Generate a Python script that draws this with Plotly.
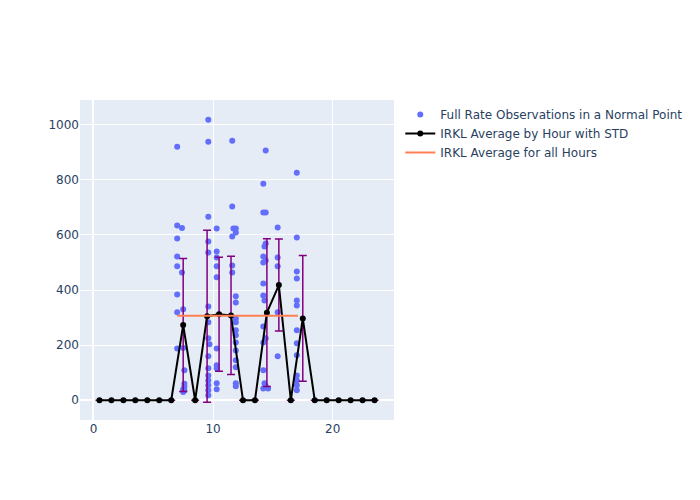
import plotly.graph_objects as go

# Scatter observations (hour, rate)
obs_x = [7.0, 7.0, 7.4, 7.0, 7.0, 7.0, 7.4, 7.0, 7.5, 7.0, 7.0, 7.5, 7.6, 7.6, 7.6, 7.5, 7.6, 7.5,
         9.6, 9.6, 9.6, 9.6, 9.6, 9.6, 9.6, 9.6, 9.6, 9.6, 9.6, 9.6, 9.6, 9.6, 9.6, 9.7,
         10.3, 10.3, 10.3, 10.3, 10.3, 10.3, 10.3, 10.3, 10.3, 10.3,
         11.6, 11.6, 11.7, 11.9, 11.9, 11.6, 11.6, 11.6, 11.9, 11.9, 11.9, 11.9, 11.9, 11.9, 11.9, 11.9, 11.9, 11.9, 11.9, 11.9,
         14.4, 14.2, 14.2, 14.4, 14.3, 14.4, 14.2, 14.2, 14.4, 14.2, 14.2, 14.3, 14.2, 14.2, 14.4, 14.2, 14.3, 14.4, 14.2, 14.6,
         15.4, 15.4, 15.4, 15.4, 15.4,
         17.0, 17.0, 17.0, 17.0, 17.0, 17.0, 17.0, 17.0, 17.0, 17.0, 17.0, 17.0, 17.0]
obs_y = [920, 634, 625, 587, 522, 486, 464, 384, 330, 319, 188, 190, 109, 60, 50, 40, 35, 30,
         1018, 938, 666, 576, 536, 340, 283, 225, 160, 116, 90, 72, 54, 36, 18, 203,
         623, 540, 518, 486, 446, 188, 127, 116, 62, 40,
         942, 703, 623, 623, 609, 594, 489, 464, 377, 355, 297, 283, 254, 236, 210, 181, 145, 120, 62, 51,
         906, 786, 681, 681, 558, 569, 522, 500, 507, 424, 380, 362, 268, 210, 225, 109, 62, 51, 43, 43,
         627, 518, 486, 319, 160,
         826, 591, 467, 442, 362, 344, 254, 207, 163, 90, 72, 54, 36]

# Hourly averages with standard deviation
hours = [h + 0.5 for h in range(24)]
avg = [0, 0, 0, 0, 0, 0, 0, 273, 0, 305, 312, 308, 0, 0, 318, 418, 0, 297, 0, 0, 0, 0, 0, 0]
std = [0, 0, 0, 0, 0, 0, 0, 241, 0, 312, 207, 215, 0, 0, 268, 167, 0, 228, 0, 0, 0, 0, 0, 0]

# Overall average
overall_x = [7.0, 17.1]
overall_y = [307, 307]

fig = go.Figure()
fig.add_trace(go.Scatter(x=obs_x, y=obs_y, mode="markers",
                         marker=dict(color="#636efa", size=6),
                         name="Full Rate Observations in a Normal Point"))
fig.add_trace(go.Scatter(x=hours, y=avg, mode="lines+markers",
                         line=dict(color="black", width=2),
                         marker=dict(color="black", size=6),
                         error_y=dict(type="data", array=std, visible=True, color="purple", thickness=1.5, width=4),
                         name="IRKL Average by Hour with STD"))
fig.add_trace(go.Scatter(x=overall_x, y=overall_y, mode="lines",
                         line=dict(color="coral", width=2),
                         name="IRKL Average for all Hours"))
fig.update_layout(width=700, height=500, template="plotly",
                  font=dict(family="DejaVu Sans"))
fig.write_html("out.html")
